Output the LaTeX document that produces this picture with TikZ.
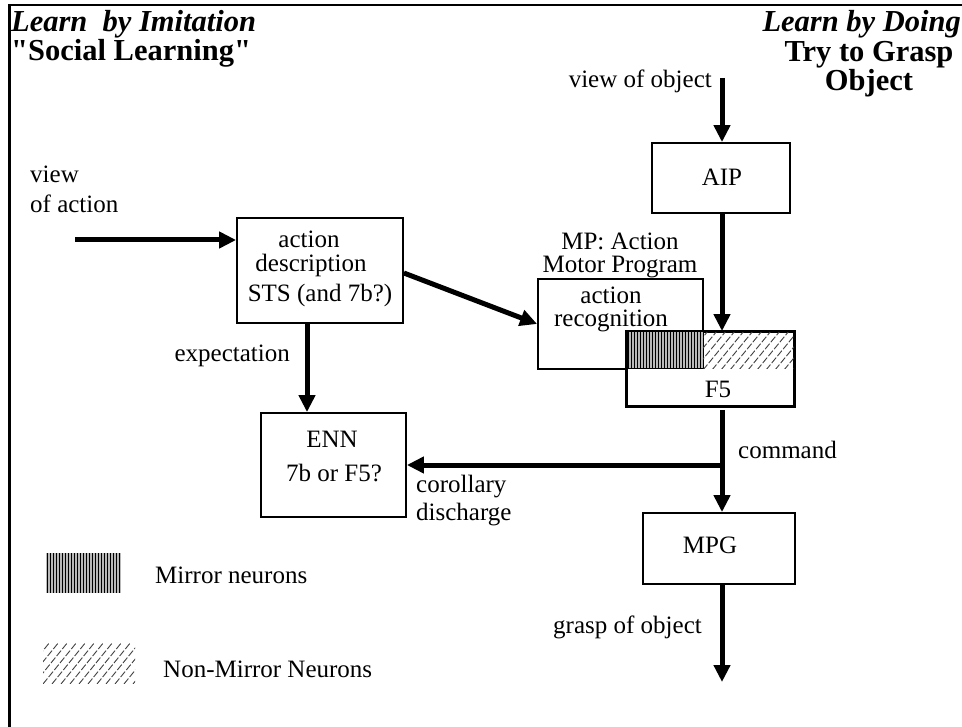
\documentclass[tikz,border=0pt]{standalone}
\usepackage{fontspec}
\setmainfont{Liberation Serif}
\usetikzlibrary{arrows.meta,calc}

\begin{document}
\begin{tikzpicture}[x=1pt,y=-1pt,
  box/.style={draw,line width=1.8pt,fill=white,inner sep=0pt},
  txt/.style={inner sep=0pt,font=\fontsize{25}{28}\selectfont},
  hdr/.style={inner sep=0pt,font=\fontsize{30.5}{31}\selectfont\bfseries\itshape},
  hdrb/.style={inner sep=0pt,font=\fontsize{30.5}{31}\selectfont\bfseries},
  arr/.style={line width=5pt,-{Triangle[length=17pt,width=16pt]}},
  thickline/.style={line width=5pt},
  mirrorline/.style={line width=1.2pt},
  hatchline/.style={line width=0.9pt,black!75,dash pattern=on 7pt off 2pt}]

\useasboundingbox (0,0) rectangle (962,727);

% frame on the top and left sides
\draw[line width=2.5pt] (962,5) -- (9.5,5) -- (9.5,727);

% headings
\node[hdr,anchor=base west] (h1) at (11,32) {Learn~ by Imitation};
\node[hdrb,anchor=base west] (h2) at (11,61) {\textquotedbl Social Learning\textquotedbl};
\node[hdr,anchor=base east] (h3) at (961,32) {Learn by Doing};
\node[hdrb,anchor=base] (h4) at (869,62) {Try to Grasp};
\node[hdrb,anchor=base] (h5) at (869,91) {Object};

% boxes
\node[box,minimum width=138pt,minimum height=70pt] (aip) at (721,178) {};
\node[box,minimum width=166pt,minimum height=105pt] (desc) at (320,270.5) {};
\node[box,minimum width=165pt,minimum height=90pt] (recog) at (620.5,324) {};
\node[box,minimum width=167pt,minimum height=74pt] (f5) at (710.5,369) {};
\node[box,minimum width=145pt,minimum height=104pt] (enn) at (333.5,465) {};
\node[box,minimum width=152pt,minimum height=71pt] (mpg) at (719,548.5) {};

% mirror part of F5 (overlap with action recognition)
\fill[gray!55] (627,332) rectangle (703,369);
\foreach \k in {1.5,4.5,...,75} \draw[mirrorline] ({627+\k},332) -- ({627+\k},369);
\draw[line width=1pt] (627,332) rectangle (703,369);
% non-mirror part of F5
\begin{scope}
  \clip (703,332) rectangle (794,369);
  \foreach \k in {-36,-27,...,100} \draw[hatchline] ({703+\k},370) -- ({703+\k+32},331);
\end{scope}
\draw[line width=1.8pt] (f5.north west) rectangle (f5.south east);

% box texts
\node[txt,anchor=base] (aipt) at (722,186) {AIP};
\node[txt,anchor=base] (desc1) at (309,248) {action};
\node[txt,anchor=base] (desc2) at (311,272) {description};
\node[txt,anchor=base] (desc3) at (320,302) {STS (and 7b?)};
\node[txt,anchor=base] (mp1) at (620,250) {MP: Action};
\node[txt,anchor=base] (mp2) at (620,273) {Motor Program};
\node[txt,anchor=base] (rec1) at (611,304) {action};
\node[txt,anchor=base] (rec2) at (611,327) {recognition};
\node[txt,anchor=base] (f5t) at (718,398) {F5};
\node[txt,anchor=base] (enn1) at (332,447) {ENN};
\node[txt,anchor=base] (enn2) at (334,482) {7b or F5?};
\node[txt,anchor=base] (mpgt) at (710,553) {MPG};

% free labels
\node[txt,anchor=base east] (lvo) at (712,88) {view of object};
\node[txt,anchor=base west] (lva1) at (30,183) {view};
\node[txt,anchor=base west] (lva2) at (30,213) {of action};
\node[txt,anchor=base east] (lexp) at (290,362) {expectation};
\node[txt,anchor=base west] (lcmd) at (738,458) {command};
\node[txt,anchor=base west] (lcor1) at (416,492) {corollary};
\node[txt,anchor=base west] (lcor2) at (416,520) {discharge};
\node[txt,anchor=base east] (lgr) at (702,633) {grasp of object};

% connectors
\coordinate (vo) at (722,78);
\coordinate (va) at (75,240);
\coordinate (ds) at (307,323);
\coordinate (fo) at (722,410);
\coordinate (jn) at (722,465);
\coordinate (go) at (722,682);
\draw[arr] (vo) -- (vo |- aip.north);
\draw[arr] (vo |- aip.south) -- (vo |- f5.north);
\draw[arr] (va) -- (va -| desc.west);
\draw[arr] ($(desc.east)+(0,2.5)$) -- (recog.west);
\draw[arr] (ds) -- (ds |- enn.north);
\draw[thickline] (fo) -- (jn);
\draw[arr] (jn) -- (enn.east);
\draw[arr] (jn) -- (jn |- mpg.north);
\draw[arr] (jn |- mpg.south) -- (go);

% legend
\fill[gray!55] (46,553) rectangle (121,593);
\foreach \k in {1.5,4.5,...,75} \draw[mirrorline] ({46+\k},553) -- ({46+\k},593);
\node[txt,anchor=base west] (lmir) at (155,583) {Mirror neurons};
\begin{scope}
  \clip (43,643) rectangle (135,683);
  \foreach \k in {-36,-27,...,100} \draw[hatchline] ({43+\k},684) -- ({43+\k+34},642);
\end{scope}
\node[txt,anchor=base west] (lnon) at (163,677) {Non-Mirror Neurons};
\end{tikzpicture}
\end{document}
